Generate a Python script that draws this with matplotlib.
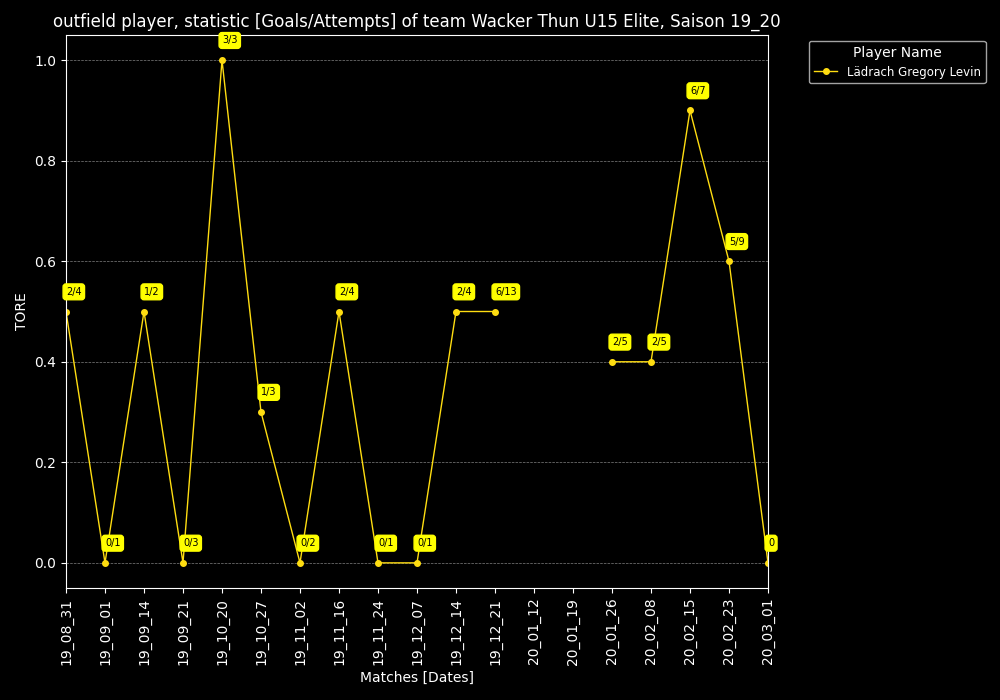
import matplotlib
matplotlib.use('Agg')
import numpy as np
import matplotlib.pyplot as plt

dates = ['19_08_31', '19_09_01', '19_09_14', '19_09_21', '19_10_20', '19_10_27',
         '19_11_02', '19_11_16', '19_11_24', '19_12_07', '19_12_14', '19_12_21',
         '20_01_12', '20_01_19', '20_01_26', '20_02_08', '20_02_15', '20_02_23', '20_03_01']
ratio = [0.5, 0.0, 0.5, 0.0, 1.0, 0.3, 0.0, 0.5, 0.0, 0.0, 0.5, 0.5,
         np.nan, np.nan, 0.4, 0.4, 0.9, 0.6, 0.0]
labels = ['2/4', '0/1', '1/2', '0/3', '3/3', '1/3', '0/2', '2/4', '0/1', '0/1', '2/4', '6/13',
          '', '', '2/5', '2/5', '6/7', '5/9', '0']

plt.style.use('dark_background')
fig = plt.figure(figsize=(10, 7), dpi=100)
ax = fig.add_axes([0.066, 0.16, 0.702, 0.79])

x = np.arange(len(dates))
ax.plot(x, ratio, color='#ffdd11', marker='o', markersize=4, linewidth=1,
        label='Lädrach Gregory Levin')
for xi, yi, lab in zip(x, ratio, labels):
    if lab and not np.isnan(yi):
        ax.annotate(lab, (xi, yi), xytext=(0, 12), textcoords='offset points',
                    fontsize=7, color='black',
                    bbox=dict(boxstyle='round,pad=0.3', fc='yellow', ec='yellow'))

ax.set_xlim(0, len(dates) - 1)
ax.set_ylim(-0.05, 1.05)
ax.set_xticks(x)
ax.set_xticklabels(dates, rotation=90)
ax.grid(axis='y', color='gray', linestyle='--', linewidth=0.5)
ax.set_xlabel('Matches [Dates]')
ax.set_ylabel('TORE')
ax.set_title('outfield player, statistic [Goals/Attempts] of team Wacker Thun U15 Elite, Saison 19_20')
ax.legend(title='Player Name', loc='upper left', bbox_to_anchor=(1.05, 1.0), fontsize=8.5)

fig.savefig('out.png')
